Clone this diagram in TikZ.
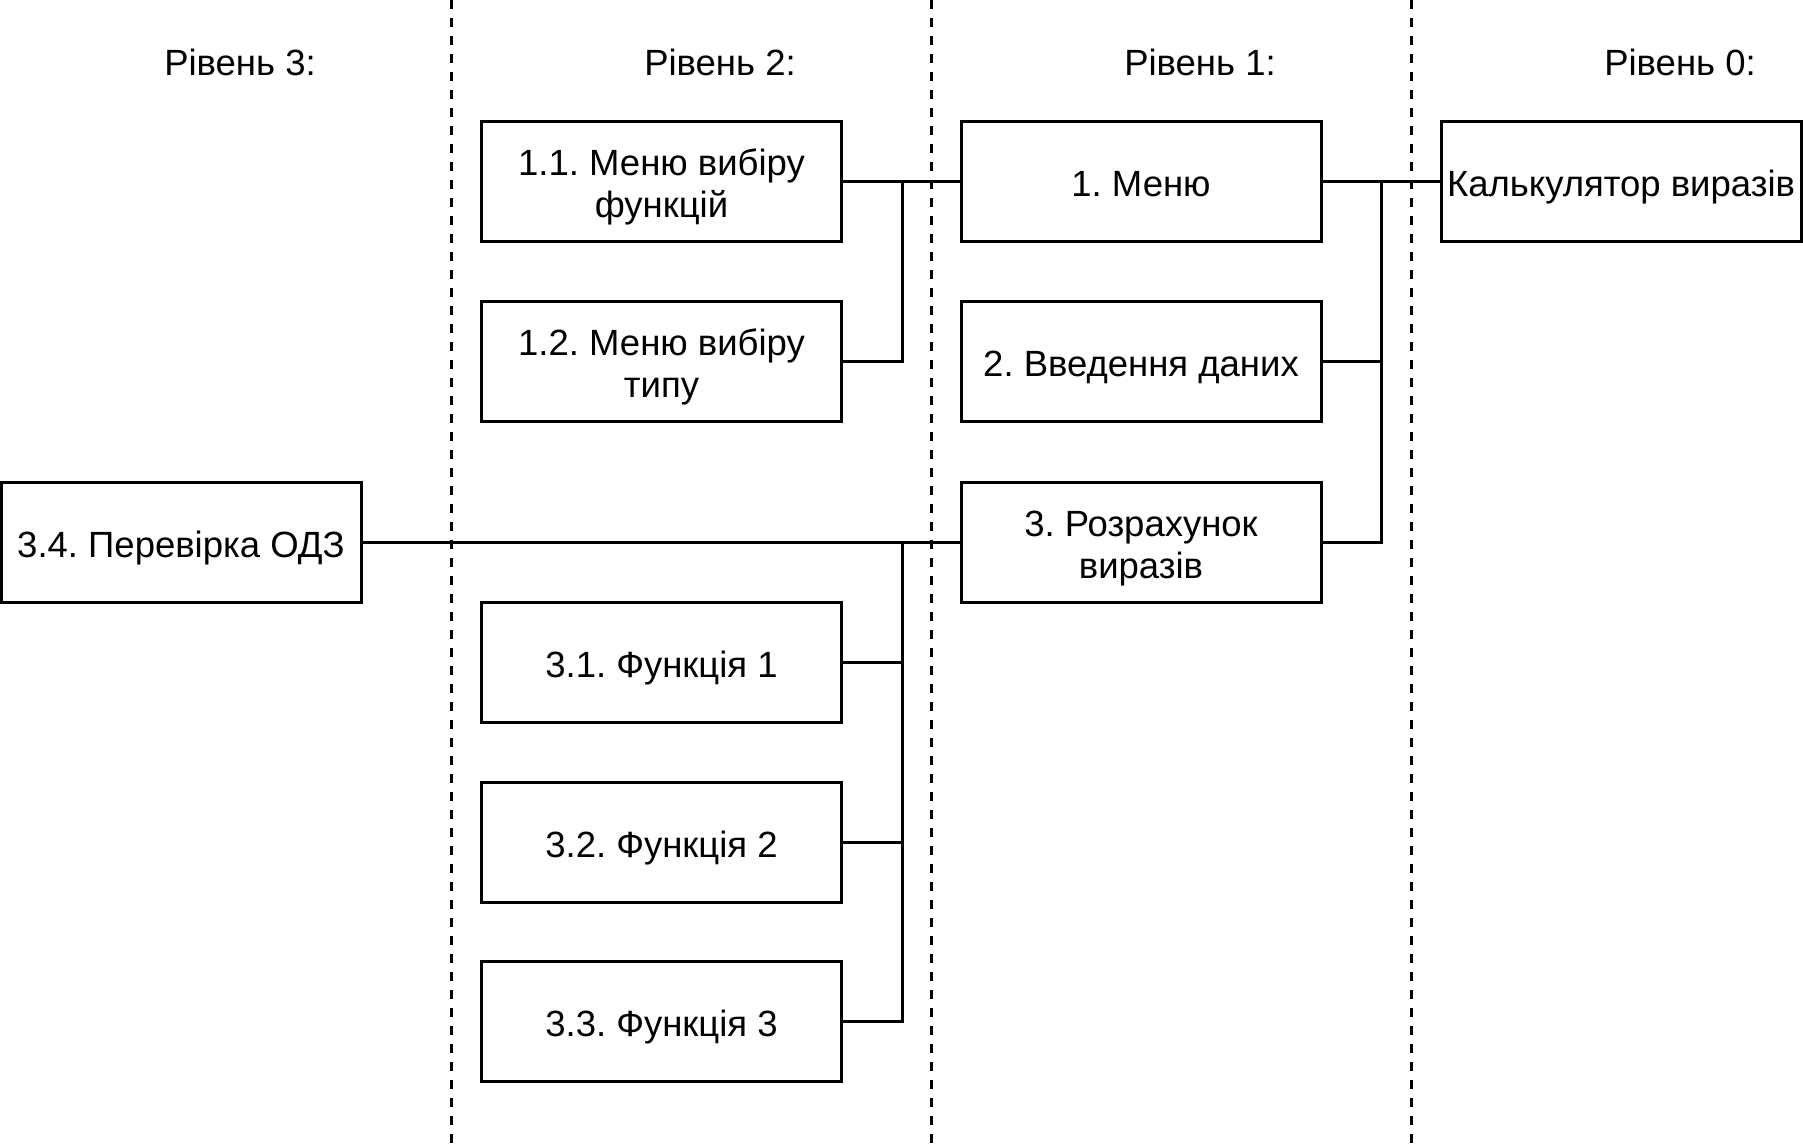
\documentclass[tikz,border=0pt]{standalone}
\usepackage{fontspec}
\setmainfont{Liberation Sans}
\frenchspacing
\newcommand\bxtext[1]{\raisebox{-7pt}[\height][\depth]{\begin{tabular}{@{}c@{}}#1\end{tabular}}}
\begin{document}
\begin{tikzpicture}[x=1pt,y=-1pt,
  boxnode/.style={draw,line width=3pt,minimum width=360pt,minimum height=120pt,inner sep=0pt,font=\fontsize{36.5}{41.5}\selectfont},
  lvl/.style={font=\fontsize{36.5}{41.5}\selectfont,inner sep=0pt},
  conn/.style={line width=3pt},
  sep/.style={line width=3pt,dash pattern=on 9pt off 9pt}]
\useasboundingbox (0,0) rectangle (1803,1146);
% separators
\foreach \n/\x in {a/451,b/931,c/1411}{
  \coordinate (\n top) at (\x,0);
  \coordinate (\n bot) at (\x,1144);
  \draw[sep] (\n top) -- (\n bot);
}
% level labels
\node[lvl] (l3) at (240,62) {Рівень 3:};
\node[lvl] (l2) at (720,62) {Рівень 2:};
\node[lvl] (l1) at (1200,62) {Рівень 1:};
\node[lvl] (l0) at (1680,62) {Рівень 0:};
% boxes
\node[boxnode] (b11) at (661.5,181) {\bxtext{1.1. Меню вибіру\\функцій}};
\node[boxnode] (b12) at (661.5,361) {\bxtext{1.2. Меню вибіру\\типу}};
\node[boxnode] (b1) at (1141,181) {\bxtext{1. Меню}};
\node[boxnode] (b2) at (1141,361) {\bxtext{2. Введення даних}};
\node[boxnode] (b3) at (1141,542) {\bxtext{3. Розрахунок\\виразів}};
\node[boxnode] (b0) at (1621,181) {\bxtext{Калькулятор виразів}};
\node[boxnode] (b34) at (181,542) {\bxtext{3.4. Перевірка ОДЗ}};
\node[boxnode] (b31) at (661.5,662) {\bxtext{3.1. Функція 1}};
\node[boxnode] (b32) at (661.5,842) {\bxtext{3.2. Функція 2}};
\node[boxnode] (b33) at (661.5,1021) {\bxtext{3.3. Функція 3}};
% junction points
\coordinate (j1) at (902,181);
\coordinate (j2) at (1381,181);
\coordinate (j3) at (902,542);
% connectors
\draw[conn] (b11.east) -- (b1.west);
\draw[conn] (b12.east) -| (j1);
\draw[conn] (b0.west) -- (b1.east);
\draw[conn] (b2.east) -| (j2);
\draw[conn] (b3.east) -| (j2);
\draw[conn] (b34.east) -- (b3.west);
\draw[conn] (b31.east) -| (j3);
\draw[conn] (b32.east) -| (j3);
\draw[conn] (b33.east) -| (j3);
\end{tikzpicture}
\end{document}
